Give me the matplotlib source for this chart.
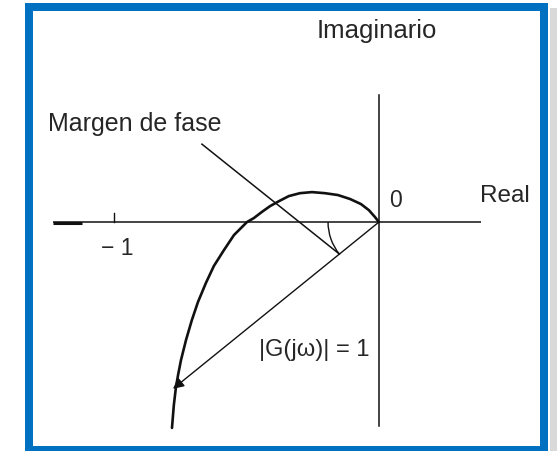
import numpy as np
import matplotlib.pyplot as plt
from matplotlib.patches import Arc, Rectangle

# Nyquist locus G(jw), in units of the real axis (the -1 point sits at -1)
curve_re = [0.000, -0.015, -0.038, -0.068, -0.109, -0.155, -0.204, -0.253,
            -0.298, -0.340, -0.377, -0.411, -0.442, -0.472, -0.498, -0.547,
            -0.585, -0.623, -0.653, -0.683, -0.706, -0.728, -0.747, -0.758,
            -0.766, -0.774, -0.781]
curve_im = [0.000, 0.019, 0.045, 0.068, 0.087, 0.102, 0.109, 0.113,
            0.109, 0.098, 0.079, 0.060, 0.038, 0.015, 0.000, -0.049,
            -0.106, -0.166, -0.230, -0.302, -0.370, -0.445, -0.521, -0.577,
            -0.623, -0.691, -0.777]

phase_margin_deg = 39.0   # angle between the -1 direction and |G(jw)| = 1
gain_at_crossover = 1.0
tick_value = -1

real_label = "Real"
imag_label = "Imaginario"
origin_label = "0"
tick_label = "\u2212 1"
pm_label = "Margen de fase"
gain_label = "|G(j\u03c9)| = 1"

plt.rcParams["font.family"] = ["Liberation Sans", "DejaVu Sans"]
ink = "#111111"
txt = "#262626"

fig = plt.figure(figsize=(5.57, 4.51), dpi=100)
ax = fig.add_axes([0, 0, 1, 1])
ax.set_xlim(-1.430, 0.672)
ax.set_ylim(-0.864, 0.838)
ax.set_aspect("equal")
ax.axis("off")

# axes of the complex plane
ax.plot([-1.23, 0.385], [0, 0], color=ink, lw=1.1, solid_capstyle="butt")
ax.plot([-1.23, -1.12], [-0.002, -0.002], color=ink, lw=2.2,
        solid_capstyle="butt")
ax.plot([0, 0], [-0.770, 0.479], color=ink, lw=1.1)
ax.plot([tick_value, tick_value], [0, 0.036], color=ink, lw=1.0)

# the locus
ax.plot(curve_re, curve_im, color=ink, lw=1.9, solid_capstyle="round",
        solid_joinstyle="round")

# vector |G(jw)| = 1 at the gain crossover
pm = np.deg2rad(phase_margin_deg)
tip = (-gain_at_crossover * np.cos(pm), -gain_at_crossover * np.sin(pm))
ax.annotate("", xy=tip, xytext=(0, 0),
            arrowprops=dict(arrowstyle="-|>", color=ink, lw=1.0,
                            mutation_scale=16, shrinkA=0, shrinkB=0))

# phase margin arc and its pointer
r_arc = 0.192
ax.add_patch(Arc((0, 0), 2 * r_arc, 2 * r_arc, theta1=180,
                 theta2=180 + phase_margin_deg, color=ink, lw=1.0))
ax.plot([-0.668, -r_arc * np.cos(pm)], [0.294, -r_arc * np.sin(pm)],
        color=ink, lw=1.1)

# labels
ax.text(-0.0075, 0.721, imag_label, fontsize=18.5, color=txt,
        ha="center", va="center")
ax.text(-1.249, 0.370, pm_label, fontsize=18, color=txt,
        ha="left", va="center")
ax.text(0.383, 0.098, real_label, fontsize=17.5, color=txt,
        ha="left", va="center")
ax.text(0.064, 0.083, origin_label, fontsize=16.5, color=txt,
        ha="center", va="center")
ax.text(-0.989, -0.098, tick_label, fontsize=16.5, color=txt,
        ha="center", va="center")
ax.text(-0.451, -0.483, gain_label, fontsize=17, color=txt,
        ha="left", va="center")

# blue frame with a soft shadow on the right
fig.patches.append(Rectangle((550 / 557, 0), 7 / 557, 1 - 8 / 451,
                             transform=fig.transFigure, facecolor="#d9d9d9",
                             edgecolor="none", zorder=0))
fig.patches.append(Rectangle((29 / 557, 1 - 450 / 451), 515 / 557,
                             443 / 451, transform=fig.transFigure,
                             facecolor="none", edgecolor="#0070c0",
                             lw=5.76, zorder=5))

fig.savefig("out.png", dpi=100)
